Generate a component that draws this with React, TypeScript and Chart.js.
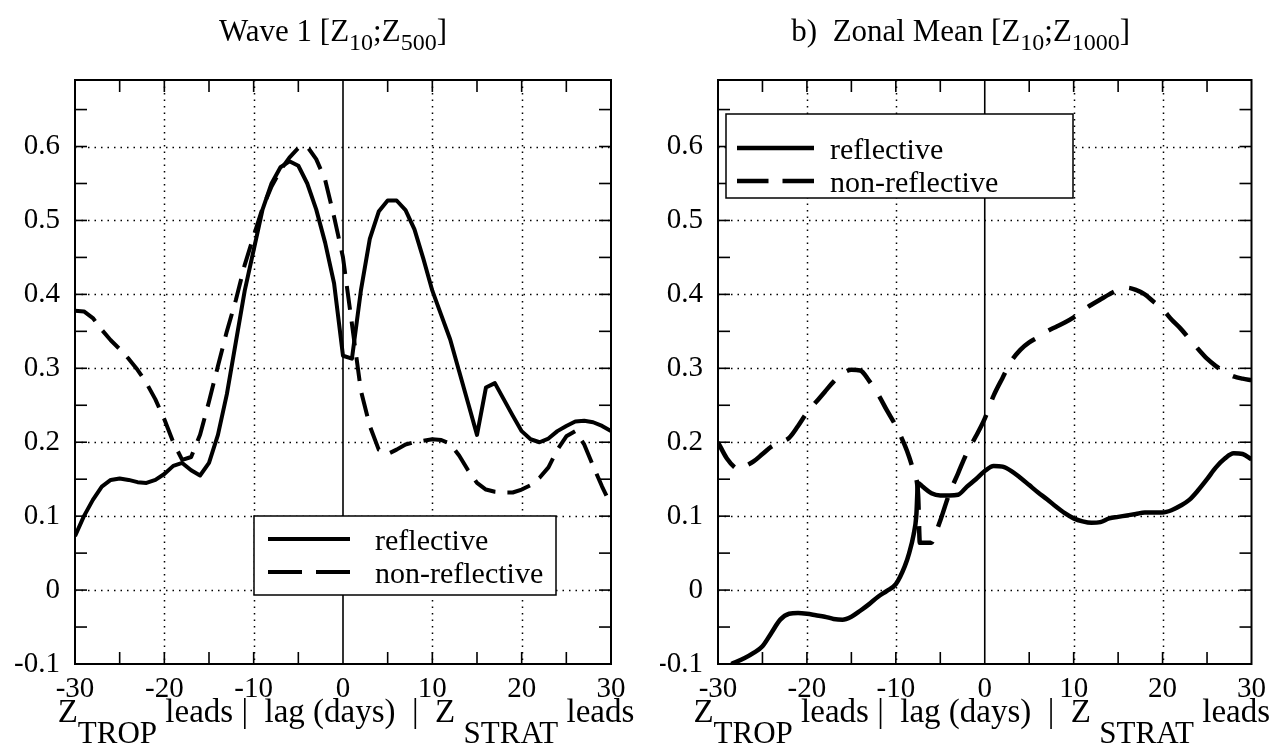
import React, { useEffect, useRef } from "react";
import { Chart, registerables } from "chart.js";

Chart.register(...registerables);

const FONT = "'Liberation Serif', 'Times New Roman', Times, serif";

// ---------------- Panel a) Wave 1 [Z10;Z500] ----------------
const wave1Lags = [
  -30, -29, -28, -27, -26, -25, -24, -23, -22, -21, -20, -19, -18, -17, -16, -15,
  -14, -13, -12, -11, -10, -9, -8, -7, -6, -5, -4, -3, -2, -1, 0, 1, 2, 3, 4, 5,
  6, 7, 8, 9, 10, 11, 12, 13, 14, 15, 16, 17, 18, 19, 20, 21, 22, 23, 24, 25, 26,
  27, 28, 29, 30,
];
const wave1Reflective = [
  0.073, 0.1, 0.122, 0.14, 0.149, 0.151, 0.149, 0.146, 0.145, 0.149, 0.157, 0.168,
  0.172, 0.162, 0.155, 0.172, 0.21, 0.265, 0.335, 0.405, 0.46, 0.515, 0.55, 0.572,
  0.58, 0.574, 0.55, 0.515, 0.47, 0.415, 0.317, 0.313, 0.405, 0.475, 0.512, 0.527,
  0.527, 0.514, 0.488, 0.448, 0.405, 0.372, 0.339, 0.296, 0.253, 0.21, 0.274, 0.28,
  0.258, 0.236, 0.215, 0.204, 0.2, 0.205, 0.215, 0.222, 0.228, 0.229, 0.227, 0.222,
  0.215,
];
const wave1NonReflective = [
  0.378, 0.377, 0.368, 0.352, 0.338, 0.326, 0.313, 0.298, 0.28, 0.258, 0.231, 0.2,
  0.176, 0.18, 0.21, 0.255, 0.303, 0.35, 0.392, 0.44, 0.479, 0.517, 0.546, 0.568,
  0.585, 0.598, 0.6, 0.583, 0.555, 0.505, 0.45, 0.36, 0.27, 0.222, 0.19, 0.184,
  0.19, 0.197, 0.2, 0.202, 0.204, 0.203, 0.198, 0.182, 0.162, 0.145, 0.136, 0.133,
  0.132, 0.132, 0.136, 0.142, 0.152, 0.166, 0.19, 0.208, 0.215, 0.197, 0.168, 0.14,
  0.115,
];

// ---------------- Panel b) Zonal Mean [Z10;Z1000] ----------------
const zonalReflLags = [
  -28.5, -27, -26, -25, -24, -23, -22, -21, -20, -19, -18, -17, -16, -15, -14, -13,
  -12, -11, -10, -9, -8.5, -8, -7.7, -7.5, -7, -6, -5, -4, -3, -2, -1, 0, 1, 2, 3,
  4, 5, 6, 7, 8, 9, 10, 11, 12, 13, 14, 15, 16, 17, 18, 19, 20, 21, 22, 23, 24, 25,
  26, 27, 28, 29, 30,
];
const zonalReflective = [
  -0.1, -0.092, -0.085, -0.076, -0.058, -0.04, -0.032, -0.031, -0.032, -0.034,
  -0.036, -0.039, -0.04, -0.036, -0.028, -0.019, -0.009, -0.001, 0.008, 0.032, 0.05,
  0.075, 0.1, 0.145, 0.14, 0.131, 0.128, 0.128, 0.129, 0.14, 0.15, 0.161, 0.168,
  0.167, 0.161, 0.152, 0.142, 0.132, 0.123, 0.113, 0.104, 0.097, 0.093, 0.091,
  0.092, 0.097, 0.099, 0.101, 0.103, 0.105, 0.105, 0.105, 0.108, 0.114, 0.122,
  0.135, 0.15, 0.166, 0.178, 0.185, 0.184, 0.177,
];
const zonalNonReflLags = [
  -30, -29, -28, -27.5, -27, -26, -25, -24, -23, -22, -21, -20, -19, -18, -17, -16,
  -15, -14, -13, -12, -11, -10, -9, -8.5, -8, -7.5, -7.3, -6, -5.5, -5, -4, -3, -2,
  -1, 0, 1, 2, 3, 4, 5, 6, 7, 8, 9, 10, 11, 12, 13, 14, 15, 16, 17, 18, 19, 20, 21,
  22, 23, 24, 25, 26, 27, 28, 29, 30,
];
const zonalNonReflective = [
  0.2, 0.178, 0.165, 0.163, 0.167, 0.174, 0.184, 0.194, 0.2, 0.206, 0.222, 0.24,
  0.254, 0.268, 0.282, 0.293, 0.298, 0.297, 0.283, 0.265, 0.243, 0.222, 0.196, 0.18,
  0.16, 0.13, 0.064, 0.064, 0.078, 0.094, 0.13, 0.158, 0.186, 0.208, 0.232, 0.263,
  0.287, 0.31, 0.325, 0.335, 0.342, 0.35, 0.356, 0.362, 0.369, 0.378, 0.386, 0.393,
  0.4, 0.406, 0.409, 0.406, 0.4, 0.39, 0.38, 0.366, 0.354, 0.34, 0.326, 0.313,
  0.303, 0.295, 0.289, 0.286, 0.284,
];

const seriesLabels = ["reflective", "non-reflective"];
const wave1Title = [
  { t: "Wave 1 [Z" },
  { t: "10", sub: true },
  { t: ";Z" },
  { t: "500", sub: true },
  { t: "]" },
];
const zonalTitle = [
  { t: "b)  Zonal Mean [Z" },
  { t: "10", sub: true },
  { t: ";Z" },
  { t: "1000", sub: true },
  { t: "]" },
];
const xAxisTitle = [
  { t: "Z" },
  { t: "TROP", sub: true },
  { t: " leads |  lag (days)  |  Z " },
  { t: "STRAT", sub: true },
  { t: " leads" },
];
const xMin = -30;
const xMax = 30;
const xStep = 10;
const xMinor = 5;
const yMin = -0.1;
const yMax = 0.69;
const yStep = 0.1;
const yMinor = 0.05;

type Part = { t: string; sub?: boolean };

function drawRich(
  ctx: CanvasRenderingContext2D,
  parts: Part[],
  cx: number,
  baseY: number,
  size: number,
  subSize: number,
  subDy: number
) {
  const widths = parts.map((p) => {
    ctx.font = `${p.sub ? subSize : size}px ${FONT}`;
    return ctx.measureText(p.t).width;
  });
  const total = widths.reduce((a, b) => a + b, 0);
  let xx = cx - total / 2;
  ctx.textAlign = "left";
  ctx.textBaseline = "alphabetic";
  parts.forEach((p, i) => {
    ctx.font = `${p.sub ? subSize : size}px ${FONT}`;
    ctx.fillText(p.t, xx, baseY + (p.sub ? subDy : 0));
    xx += widths[i];
  });
}

function line(ctx: CanvasRenderingContext2D, x1: number, y1: number, x2: number, y2: number) {
  ctx.beginPath();
  ctx.moveTo(x1, y1);
  ctx.lineTo(x2, y2);
  ctx.stroke();
}

const decorPlugin = {
  id: "decor",
  beforeDatasetsDraw(chart: any) {
    const { ctx, chartArea: a } = chart;
    const x = chart.scales.x;
    const y = chart.scales.y;
    ctx.save();
    ctx.strokeStyle = "#000";
    ctx.lineWidth = 1.5;
    ctx.setLineDash([1.5, 5]);
    x.ticks.forEach((t: any) => {
      if (t.value === 0 || t.value <= xMin || t.value >= xMax) return;
      const px = Math.round(x.getPixelForValue(t.value)) + 0.5;
      line(ctx, px, a.top, px, a.bottom);
    });
    y.ticks.forEach((t: any) => {
      if (t.value <= yMin + 1e-9 || t.value >= yMax - 1e-9) return;
      const py = Math.round(y.getPixelForValue(t.value)) + 0.5;
      line(ctx, a.left, py, a.right, py);
    });
    ctx.setLineDash([]);
    ctx.lineWidth = 1.6;
    const zx = x.getPixelForValue(0);
    line(ctx, zx, a.top, zx, a.bottom);
    ctx.restore();
  },
  afterDatasetsDraw(chart: any, _a: any, o: any) {
    const { ctx, chartArea: a } = chart;
    const x = chart.scales.x;
    const y = chart.scales.y;
    ctx.save();
    ctx.strokeStyle = "#000";
    ctx.fillStyle = "#000";
    ctx.setLineDash([]);
    // tick marks (inward)
    ctx.lineWidth = 1.6;
    const tl = 12;
    for (let v = xMin + xMinor; v < xMax; v += xMinor) {
      if (v === 0) continue;
      const px = x.getPixelForValue(v);
      line(ctx, px, a.bottom, px, a.bottom - tl);
      line(ctx, px, a.top, px, a.top + tl);
    }
    for (let k = 1; yMin + k * yMinor < yMax - 1e-9; k++) {
      const py = y.getPixelForValue(yMin + k * yMinor);
      line(ctx, a.left, py, a.left + tl, py);
      line(ctx, a.right, py, a.right - tl, py);
    }
    // border
    ctx.lineWidth = 2;
    ctx.strokeRect(a.left, a.top, a.right - a.left, a.bottom - a.top);

    // legend
    const L = o.legend;
    const bx = a.left + L.left;
    const by = a.top + L.top;
    ctx.fillStyle = "#fff";
    ctx.fillRect(bx, by, L.w, L.h);
    ctx.lineWidth = 1.5;
    ctx.strokeRect(bx, by, L.w, L.h);
    ctx.fillStyle = "#000";
    chart.data.datasets.forEach((ds: any, i: number) => {
      const ly = by + L.rows[i];
      const x1 = bx + L.lineFrom;
      const x2 = bx + L.lineTo;
      ctx.lineWidth = ds.borderWidth;
      if (ds.borderDash && ds.borderDash.length) {
        const gap = L.gap;
        const d = (x2 - x1 - gap) / 2;
        ctx.setLineDash([d, gap]);
      } else ctx.setLineDash([]);
      line(ctx, x1, ly, x2, ly);
      ctx.setLineDash([]);
      ctx.font = `${L.font}px ${FONT}`;
      ctx.textAlign = "left";
      ctx.textBaseline = "alphabetic";
      ctx.fillText(ds.label, bx + L.textX, ly + L.textDy);
    });

    // title
    drawRich(ctx, o.title, (a.left + a.right) / 2 + o.titleDx, o.titleY, 31, 24, 9);
    // x-axis title
    drawRich(ctx, xAxisTitle, (a.left + a.right) / 2 + o.xlabDx, o.xlabY, 33, 31, 21);
    ctx.restore();
  },
};

type PanelProps = {
  width: number;
  left: number;
  plotLeft: number;
  plotRight: number;
  datasets: any[];
  decor: any;
};

function Panel({ width, left, plotLeft, plotRight, datasets, decor }: PanelProps) {
  const ref = useRef<HTMLCanvasElement | null>(null);
  useEffect(() => {
    if (!ref.current) return;
    const chart = new Chart(ref.current, {
      type: "line",
      data: { datasets },
      plugins: [decorPlugin],
      options: {
        animation: false,
        responsive: false,
        events: [],
        layout: { padding: { top: 80, right: width - plotRight, left: 0, bottom: 0 } },
        elements: { point: { radius: 0 } },
        scales: {
          x: {
            type: "linear",
            min: xMin,
            max: xMax,
            grid: { display: false, drawTicks: false },
            border: { display: false },
            ticks: {
              stepSize: xStep,
              color: "#000",
              font: { family: FONT, size: 29 },
              padding: 8,
              maxRotation: 0,
              autoSkip: false,
            },
            afterFit: (s: any) => {
              s.height = 90;
            },
          },
          y: {
            type: "linear",
            min: yMin,
            max: yMax,
            grid: { display: false, drawTicks: false },
            border: { display: false },
            ticks: {
              stepSize: yStep,
              includeBounds: false,
              color: "#000",
              font: { family: FONT, size: 29 },
              padding: 15,
            },
            afterFit: (s: any) => {
              s.width = plotLeft;
            },
          },
        },
        plugins: {
          legend: { display: false },
          tooltip: { enabled: false },
          title: { display: false },
          decor,
        } as any,
      } as any,
    });
    return () => chart.destroy();
  }, []);
  return (
    <canvas
      ref={ref}
      width={width}
      height={754}
      style={{ position: "absolute", left, top: 0, width, height: 754 }}
    />
  );
}

export default function App() {
  const leftSets = [
    {
      label: seriesLabels[0],
      data: wave1Lags.map((v, i) => ({ x: v, y: wave1Reflective[i] })),
      borderColor: "#000",
      borderWidth: 4,
      borderJoinStyle: "round",
      tension: 0,
      fill: false,
    },
    {
      label: seriesLabels[1],
      data: wave1Lags.map((v, i) => ({ x: v, y: wave1NonReflective[i] })),
      borderColor: "#000",
      borderWidth: 4,
      borderDash: [24, 12],
      borderJoinStyle: "round",
      tension: 0,
      fill: false,
    },
  ];
  const rightSets = [
    {
      label: seriesLabels[0],
      data: zonalReflLags.map((v, i) => ({ x: v, y: zonalReflective[i] })),
      borderColor: "#000",
      borderWidth: 4.5,
      borderJoinStyle: "round",
      cubicInterpolationMode: "monotone",
      fill: false,
    },
    {
      label: seriesLabels[1],
      data: zonalNonReflLags.map((v, i) => ({ x: v, y: zonalNonReflective[i] })),
      borderColor: "#000",
      borderWidth: 4.5,
      borderDash: [30, 16],
      borderJoinStyle: "round",
      cubicInterpolationMode: "monotone",
      fill: false,
    },
  ];
  return (
    <div style={{ position: "absolute", left: 0, top: 0, width: 1274, height: 754, background: "#fff" }}>
      <Panel
        width={660}
        left={0}
        plotLeft={75}
        plotRight={611}
        datasets={leftSets}
        decor={{
          title: wave1Title,
          titleDx: -10,
          titleY: 41,
          xlabDx: 3,
          xlabY: 722,
          legend: { left: 179, top: 436, w: 302, h: 79, rows: [23, 56], lineFrom: 14, lineTo: 96, gap: 14, textX: 121, textDy: 11, font: 30 },
        }}
      />
      <Panel
        width={614}
        left={660}
        plotLeft={58}
        plotRight={594}
        datasets={rightSets}
        decor={{
          title: zonalTitle,
          titleDx: -24,
          titleY: 41,
          xlabDx: -3,
          xlabY: 722,
          legend: { left: 8, top: 34, w: 347, h: 84, rows: [34, 67], lineFrom: 11, lineTo: 88, gap: 14, textX: 104, textDy: 11, font: 30 },
        }}
      />
    </div>
  );
}
